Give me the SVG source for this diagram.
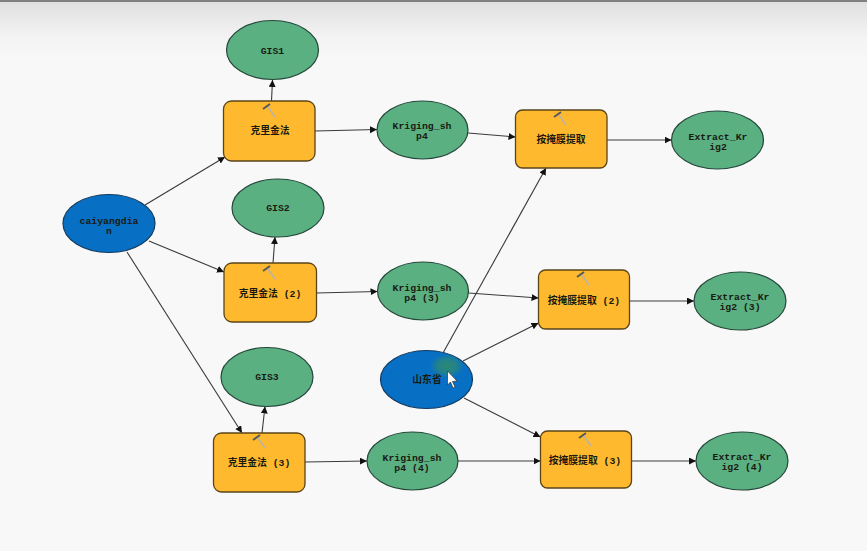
<svg xmlns="http://www.w3.org/2000/svg" width="867" height="551" viewBox="0 0 867 551">
<style>
.e{stroke:#24473a;stroke-width:1.2}
.g{fill:#5bb082}
.b{fill:#0870c4;stroke:#123a5e}
.t{fill:#ffb92e;stroke:#5a4418;stroke-width:1.3}
text{font-family:"Liberation Mono","Noto Sans CJK SC",monospace;font-size:9.8px;font-weight:700;fill:#1a1a10;text-anchor:middle}
.c{fill:none;stroke:#3a3a3a;stroke-width:1.1;marker-end:url(#a)}
.h{fill:none;stroke:#b9b4a8;stroke-width:1.6}
.h2{fill:none;stroke:#55585c;stroke-width:2}
</style>
<defs>
<marker id="a" markerUnits="userSpaceOnUse" markerWidth="8" markerHeight="8" refX="7" refY="3.5" orient="auto"><path d="M0 0L7 3.5L0 7z" fill="#111"/></marker>
<linearGradient id="bg" x1="0" y1="0" x2="0" y2="1"><stop offset="0" stop-color="#e0e0e0"/><stop offset=".6" stop-color="#f3f3f3"/><stop offset="1" stop-color="#f8f8f8"/></linearGradient>
<radialGradient id="sm"><stop offset="0" stop-color="#2d8a70" stop-opacity=".95"/><stop offset=".55" stop-color="#2d8a70" stop-opacity=".7"/><stop offset="1" stop-color="#2d8a70" stop-opacity="0"/></radialGradient>
<g id="hm"><path class="h" d="M2 3L9 13"/><path class="h2" d="M-3 5L4 0"/></g>
</defs>
<rect width="867" height="551" fill="#f8f8f8"/>
<rect y="2" width="867" height="58" fill="url(#bg)"/>
<rect width="867" height="2" fill="#808080"/>
<g id="connectors">
<path class="c" d="M271.500 101L272.500 80"/>
<path class="c" d="M315 131L377 129.500"/>
<path class="c" d="M468 133L515.500 137"/>
<path class="c" d="M607 140L671.500 140"/>
<path class="c" d="M145 205L225 157"/>
<path class="c" d="M149 241L224 272"/>
<path class="c" d="M127 252L242 433"/>
<path class="c" d="M273 263L275 237"/>
<path class="c" d="M316.500 293L377.500 291.500"/>
<path class="c" d="M468.500 293L538.500 298"/>
<path class="c" d="M629.500 301L694 301"/>
<path class="c" d="M262 433L265 406.500"/>
<path class="c" d="M305 462L367 461"/>
<path class="c" d="M458 461L540.500 461"/>
<path class="c" d="M631.500 461L696 461"/>
<path class="c" d="M443 353L546 168"/>
<path class="c" d="M463 361L538.500 323"/>
<path class="c" d="M464 398L540.500 437"/>
</g>
<g id="n-gis1"><ellipse class="e g" cx="272.500" cy="50" rx="46" ry="29.500"/><text x="272.500" y="53.500">GIS1</text></g>
<g id="n-tool1"><rect class="t" x="223.500" y="101" width="91.500" height="60" rx="8"/><use href="#hm" x="266" y="104"/><text x="270" y="134">克里金法</text></g>
<g id="n-krig1"><ellipse class="e g" cx="422.500" cy="130" rx="45.500" ry="29"/><text y="129"><tspan x="422">Kriging_sh</tspan><tspan x="422" dy="9.500">p4</tspan></text></g>
<g id="n-ext-tool1"><rect class="t" x="515.500" y="110" width="91.500" height="58" rx="7"/><use href="#hm" x="557" y="112"/><text x="561" y="143">按掩膜提取</text></g>
<g id="n-ext1"><ellipse class="e g" cx="717.500" cy="140" rx="46" ry="29"/><text y="140"><tspan x="718">Extract_Kr</tspan><tspan x="718" dy="9.500">ig2</tspan></text></g>
<g id="n-caiyang"><ellipse class="e b" cx="109" cy="223.500" rx="46" ry="29"/><text y="224"><tspan x="109">caiyangdia</tspan><tspan x="109" dy="9.500">n</tspan></text></g>
<g id="n-gis2"><ellipse class="e g" cx="278" cy="208" rx="46" ry="29"/><text x="278" y="210.500">GIS2</text></g>
<g id="n-tool2"><rect class="t" x="224" y="263" width="92.500" height="59" rx="8"/><use href="#hm" x="266" y="266"/><text x="270" y="297">克里金法 (2)</text></g>
<g id="n-krig2"><ellipse class="e g" cx="423" cy="291" rx="45.500" ry="29"/><text y="291"><tspan x="422">Kriging_sh</tspan><tspan x="422" dy="9.500">p4 (3)</tspan></text></g>
<g id="n-ext-tool2"><rect class="t" x="538.500" y="270" width="91" height="59" rx="7"/><use href="#hm" x="580" y="272"/><text x="584" y="304">按掩膜提取 (2)</text></g>
<g id="n-ext2"><ellipse class="e g" cx="740" cy="301" rx="46" ry="29"/><text y="300"><tspan x="740">Extract_Kr</tspan><tspan x="740" dy="9.500">ig2 (3)</tspan></text></g>
<g id="n-gis3"><ellipse class="e g" cx="267" cy="377" rx="46" ry="29.500"/><text x="267" y="380">GIS3</text></g>
<g id="n-tool3"><rect class="t" x="213.500" y="433" width="91.500" height="59" rx="8"/><use href="#hm" x="256" y="435"/><text x="259" y="466">克里金法 (3)</text></g>
<g id="n-krig3"><ellipse class="e g" cx="412.500" cy="461" rx="45.500" ry="29"/><text y="461"><tspan x="412">Kriging_sh</tspan><tspan x="412" dy="9.500">p4 (4)</tspan></text></g>
<g id="n-shandong"><ellipse class="e b" cx="426.500" cy="379.500" rx="46" ry="29"/><ellipse cx="447" cy="366" rx="17" ry="12" fill="url(#sm)"/><text x="427" y="383">山东省</text></g>
<g id="n-ext-tool3"><rect class="t" x="540.500" y="431" width="91" height="57" rx="7"/><use href="#hm" x="582" y="433"/><text x="585" y="464">按掩膜提取 (3)</text></g>
<g id="n-ext3"><ellipse class="e g" cx="742" cy="461" rx="46" ry="29"/><text y="460"><tspan x="742">Extract_Kr</tspan><tspan x="742" dy="9.500">ig2 (4)</tspan></text></g>
<path d="M447.500 371V385L450.500 382L453 388L455 387L452.500 381.500L457 381Z" fill="#fff" stroke="#333" stroke-width=".7"/>
</svg>
